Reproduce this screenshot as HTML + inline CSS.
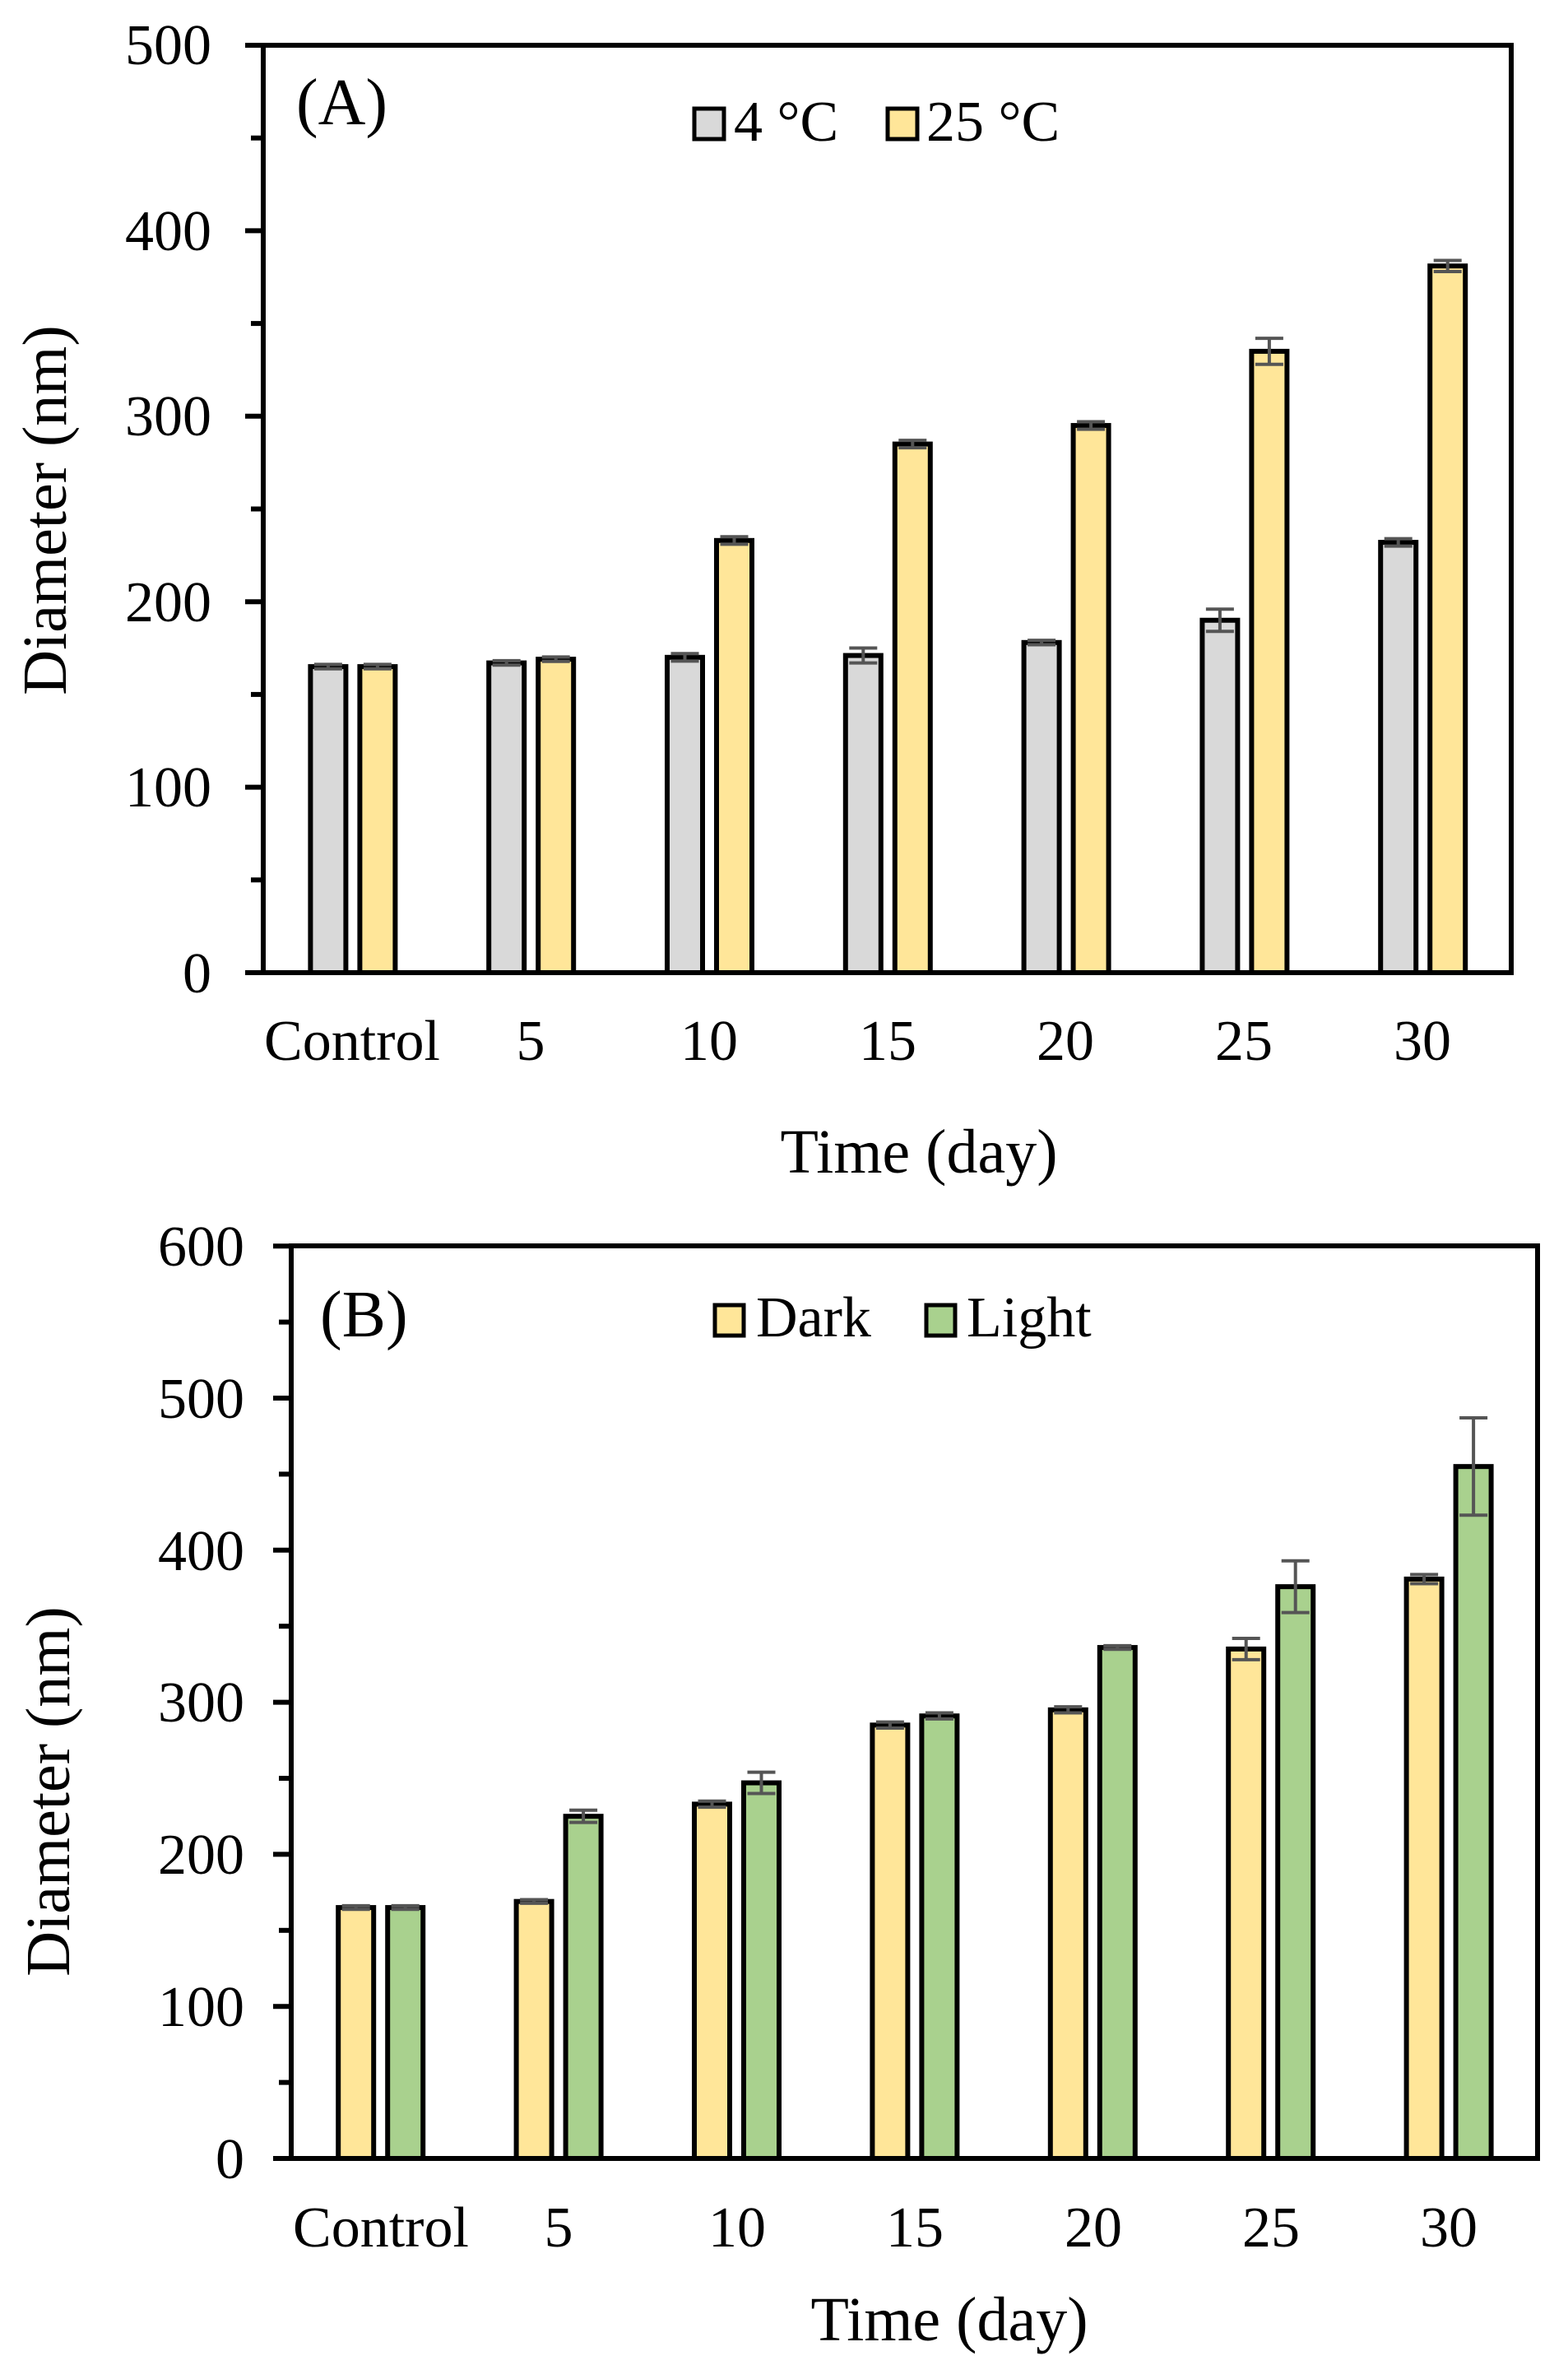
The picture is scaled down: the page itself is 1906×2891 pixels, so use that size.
<!DOCTYPE html>
<html><head><meta charset="utf-8"><style>html,body{margin:0;padding:0;background:#fff}svg{display:block}text{font-family:"Liberation Serif",serif;fill:#000}</style></head>
<body>
<svg id="s" width="1906" height="2891" viewBox="0 0 1906 2891" xmlns="http://www.w3.org/2000/svg">
<rect width="1906" height="2891" fill="#fff"/>
<g id="bars"></g>
<!-- Panel A frame -->
<rect x="320" y="55" width="1517" height="1127" fill="none" stroke="#000" stroke-width="6"/>
<g id="ticks"></g>
<g font-size="70" text-anchor="end">
<text x="257" y="1206">0</text><text x="257" y="980">100</text><text x="257" y="755">200</text><text x="257" y="529">300</text><text x="257" y="304">400</text><text x="257" y="78">500</text>
</g>
<g font-size="70" text-anchor="middle">
<text x="428" y="1288">Control</text><text x="645" y="1288">5</text><text x="862" y="1288">10</text><text x="1079" y="1288">15</text><text x="1295" y="1288">20</text><text x="1512" y="1288">25</text><text x="1729" y="1288">30</text>
</g>
<text x="1117" y="1425" font-size="76" text-anchor="middle">Time (day)</text>
<text transform="translate(80,620) rotate(-90)" font-size="76" text-anchor="middle">Diameter (nm)</text>
<text x="360" y="151" font-size="80">(A)</text>
<rect x="844" y="132" width="36" height="37" fill="#d9d9d9" stroke="#000" stroke-width="5"/>
<text x="892" y="171" font-size="70">4 °C</text>
<rect x="1079" y="132" width="36" height="37" fill="#ffe699" stroke="#000" stroke-width="5"/>
<text x="1126" y="171" font-size="70">25 °C</text>

<!-- Panel B frame -->
<rect x="354" y="1514" width="1515" height="1109" fill="none" stroke="#000" stroke-width="6"/>
<g font-size="70" text-anchor="end">
<text x="297" y="2647">0</text><text x="297" y="2462">100</text><text x="297" y="2277">200</text><text x="297" y="2092">300</text><text x="297" y="1908">400</text><text x="297" y="1723">500</text><text x="297" y="1538">600</text>
</g>
<g font-size="70" text-anchor="middle">
<text x="463" y="2730">Control</text><text x="679" y="2730">5</text><text x="896" y="2730">10</text><text x="1112" y="2730">15</text><text x="1329" y="2730">20</text><text x="1545" y="2730">25</text><text x="1761" y="2730">30</text>
</g>
<text x="1154" y="2844" font-size="76" text-anchor="middle">Time (day)</text>
<text transform="translate(84,2177) rotate(-90)" font-size="76" text-anchor="middle">Diameter (nm)</text>
<text x="389" y="1624" font-size="80">(B)</text>
<rect x="869" y="1586" width="35" height="37" fill="#ffe699" stroke="#000" stroke-width="5"/>
<text x="919" y="1624" font-size="70">Dark</text>
<rect x="1126" y="1586" width="35" height="37" fill="#a9d18e" stroke="#000" stroke-width="5"/>
<text x="1175" y="1624" font-size="70">Light</text>
</svg>
<script>
var NS="http://www.w3.org/2000/svg",B=document.getElementById("bars"),T=document.getElementById("ticks");
function el(p,t,a){var e=document.createElementNS(NS,t);for(var k in a)e.setAttribute(k,a[k]);p.appendChild(e);}
function panel(x0,cw,y0,sc,s1,s2,c1,c2,maxv){
 for(var i=0;i<7;i++){var c=x0+cw*(i+0.5);
  [[s1,c1,-51],[s2,c2,9]].forEach(function(q){var v=q[0][i][0],e=q[0][i][1],y=y0-v*sc;
   el(B,"rect",{x:c+q[2],y:y,width:43,height:y0-y,fill:q[1],stroke:"#000","stroke-width":6});
   var cx=c+q[2]+21.5,e2=Math.max(e,1.2);
   el(B,"line",{x1:cx,x2:cx,y1:y-e2*sc,y2:y+e2*sc,stroke:"#555","stroke-width":4});
   el(B,"line",{x1:cx-17,x2:cx+17,y1:y-e2*sc,y2:y-e2*sc,stroke:"#555","stroke-width":4});
   el(B,"line",{x1:cx-17,x2:cx+17,y1:y+e2*sc,y2:y+e2*sc,stroke:"#555","stroke-width":4});
  });}
 for(var v=0;v<=maxv;v+=50){var y=y0-v*sc,L=(v%100==0)?22:15;
  el(T,"line",{x1:x0-L,x2:x0,y1:y,y2:y,stroke:"#000","stroke-width":6});}
}
var dark=[[165,1],[169,1],[233,2],[285,2],[295,2],[335,7],[381,3]];
panel(320,216.8,1182,2.254,[[165,1],[167,1],[170,2],[171,4],[178,1],[190,6],[232,2]],dark,"#d9d9d9","#ffe699",500);
panel(354,216.4,2623,1.848,dark,[[165,1],[225,4],[247,7],[291,2],[336,1],[376,17],[455,32]],"#ffe699","#a9d18e",600);
</script>
</body></html>
